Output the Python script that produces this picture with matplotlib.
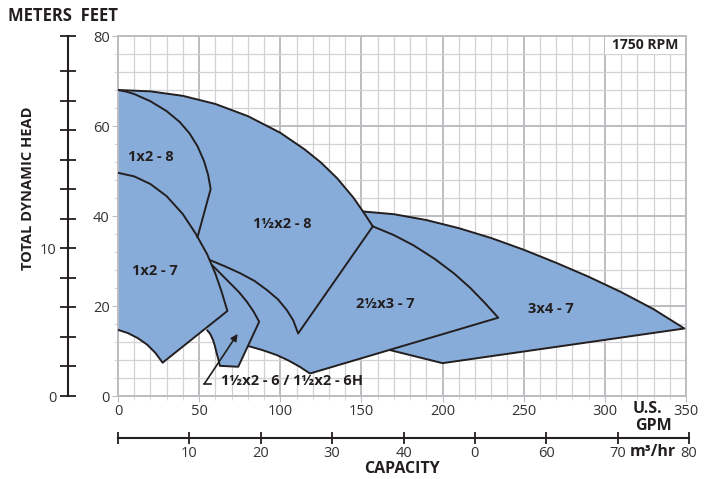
import numpy as np
import matplotlib.pyplot as plt
from matplotlib.patches import Rectangle

plt.rcParams['font.family'] = ['Open Sans', 'DejaVu Sans']

# pump coverage curves, (GPM, feet)
q_1h2_8_top = [0, 20, 40, 60, 80, 100, 115, 125, 135, 145, 151, 157]
h_1h2_8_top = [68, 67.7, 66.7, 64.9, 62.2, 58.5, 54.8, 51.9, 48.4, 44.1, 41.0, 37.7]

q_1x2_8 = [0, 5, 10, 20, 30, 38, 44, 49, 53, 55.5, 57.1, 49]
h_1x2_8 = [68, 67.65, 67.1, 65.5, 63.3, 60.9, 58.4, 55.5, 52.2, 49.2, 46.0, 35.3]

q_1x2_7_top = [0, 10, 20, 30, 40, 48, 55, 60, 64, 67.4]
h_1x2_7_top = [49.6, 48.8, 47.1, 44.4, 40.4, 36.0, 31.45, 27.2, 23.0, 18.9]
q_1x2_7_bot = [27.5, 23, 18, 12, 6, 0]
h_1x2_7_bot = [7.4, 9.6, 11.4, 12.9, 14.0, 14.7]

# lower boundary of 1 1/2x2-8
q_1h2_8_low = [56.7, 66, 75.2, 84, 91.6, 98.5, 104, 108, 111]
h_1h2_8_low = [30.2, 28.8, 27.3, 25.6, 23.6, 21.5, 19.1, 16.8, 13.9]

# 1 1/2x2-6 outline
q_1h2_6_top = [58.2, 63.5, 69, 74.5, 79.3, 83.5, 87]
h_1h2_6_top = [29.0, 27.1, 25.1, 23.1, 21, 18.8, 16.5]
q_1h2_6_bot = [74.1, 62.8, 61.8, 60.8, 59.7, 58.5, 56.8, 55]
h_1h2_6_bot = [6.5, 6.7, 8.2, 9.5, 11.1, 12.5, 13.8, 14.6]

q_2h3_7_top = [157, 170, 182, 195, 207, 217, 226, 234.3]
h_2h3_7_top = [37.7, 35.75, 33.5, 30.5, 27.25, 24.05, 20.7, 17.4]
q_2h3_7_bot = [118.3, 112, 105, 97.8, 89, 80.3]
h_2h3_7_bot = [5, 6.5, 7.9, 9.1, 10.2, 11.1]

q_3x4_7_top = [151, 170, 190, 210, 230, 250, 270, 290, 310, 330, 349]
h_3x4_7_top = [41.0, 40.4, 39.1, 37.3, 35.1, 32.5, 29.6, 26.5, 23.1, 19.3, 15.0]
q_3x4_7_bot = [200, 167.6]
h_3x4_7_bot = [7.3, 10.2]

gpm_ticks = [0, 50, 100, 150, 200, 250, 300, 350]
ft_ticks = [0, 20, 40, 60, 80]
m_ticks = [0, 2, 4, 6, 8, 10, 12, 14, 16, 18, 20, 22, 24.384]
m_labels = ['0', '', '', '', '', '10', '', '', '', '', '', '', '']
m3_ticks = [0, 10, 20, 30, 40, 50, 60, 70, 80]
m3_labels = ['', '10', '20', '30', '40', '0', '60', '70', '80']

labels = ['1x2 - 8', '1x2 - 7', '1½x2 - 8', '2½x3 - 7', '3x4 - 7']
label_q = [20.3, 22.8, 101, 165, 266.8]
label_h = [53.1, 27.8, 38.2, 20.4, 19.3]

fill = '#88acd9'
ink = '#231f20'
grid_c = '#d2d2d6'
grid_major = '#bcbcc1'

fig = plt.figure(figsize=(7.04, 4.79), dpi=100)
ax = fig.add_axes([118/704, 1-396/479, 568/704, 360/479])

def cat(*parts):
    q, h = [], []
    for pq, ph in parts:
        q += list(pq)
        h += list(ph)
    return q, h

# filled regions
polys = [
    cat((q_1h2_8_top, h_1h2_8_top), (q_1h2_8_low[::-1], h_1h2_8_low[::-1]), ([0], [30])),
    cat((q_1x2_8, h_1x2_8), (q_1x2_7_top[5::-1], h_1x2_7_top[5::-1])),
    cat((q_1x2_7_top, h_1x2_7_top), (q_1x2_7_bot, h_1x2_7_bot)),
    cat((q_1h2_6_top, h_1h2_6_top), (q_1h2_6_bot, h_1h2_6_bot)),
    cat((q_2h3_7_top, h_2h3_7_top), (q_2h3_7_bot, h_2h3_7_bot),
        (q_1h2_6_top[::-1], h_1h2_6_top[::-1]), (q_1h2_8_low, h_1h2_8_low)),
    cat((q_3x4_7_top, h_3x4_7_top), (q_3x4_7_bot, h_3x4_7_bot), ([140], [20])),
]
for q, h in polys:
    ax.fill(q, h, color=fill, lw=0, zorder=2)

# outlines
lw = 1.4
outlines = [
    (q_1h2_8_top, h_1h2_8_top),
    (q_1x2_8, h_1x2_8),
    cat((q_1x2_7_top, h_1x2_7_top), (q_1x2_7_bot, h_1x2_7_bot)),
    cat((q_1h2_8_low, h_1h2_8_low), ([157], [37.7])),
    cat((q_1h2_6_top, h_1h2_6_top), (q_1h2_6_bot, h_1h2_6_bot)),
    cat((q_2h3_7_top, h_2h3_7_top), (q_2h3_7_bot, h_2h3_7_bot)),
    cat((q_3x4_7_top, h_3x4_7_top), (q_3x4_7_bot, h_3x4_7_bot)),
]
for q, h in outlines:
    ax.plot(q, h, color=ink, lw=lw, zorder=3, solid_joinstyle='round')

for t, x, y in zip(labels, label_q, label_h):
    ax.text(x, y, t, ha='center', va='center', fontsize=10.5, fontweight='bold', color=ink, zorder=4)

ax.text(63.5, 3.3, '1½x2 - 6 / 1½x2 - 6H', ha='left', va='center', fontsize=10.5,
        fontweight='bold', color=ink, zorder=4)
ax.plot([53.2, 57], [2.7, 2.7], color=ink, lw=1.2, zorder=4)
ax.annotate('', xy=(73.7, 13.8), xytext=(53.2, 2.7),
            arrowprops=dict(arrowstyle='-|>', color=ink, lw=1.2, mutation_scale=10,
                            shrinkA=0, shrinkB=0), zorder=4)

ax.add_patch(Rectangle((300, 76), 50, 4, facecolor='white', edgecolor='none', zorder=1))
ax.text(325, 78, '1750 RPM', ha='center', va='center', fontsize=10, fontweight='bold', color=ink)

ax.set_xlim(0, 350)
ax.set_ylim(0, 80)
ax.set_xticks(gpm_ticks)
ax.set_xticks(np.arange(0, 351, 10), minor=True)
ax.set_yticks(ft_ticks)
ax.set_yticks(np.arange(0, 81, 4), minor=True)
ax.grid(which='minor', color=grid_c, lw=0.9)
ax.grid(which='major', color=grid_major, lw=1.4)
ax.set_axisbelow(True)
for s in ax.spines.values():
    s.set_color(grid_major)
    s.set_linewidth(1.4)
ax.tick_params(which='major', length=4, color=grid_major, labelsize=10.5, labelcolor='#333333', pad=2)
ax.tick_params(which='minor', length=3, color=grid_c)

# meters axis
axm = fig.add_axes([68/704, 1-396/479, 0.0001, 360/479])
axm.set_ylim(0, 80*0.3048)
axm.set_xticks([])
axm.set_yticks(m_ticks)
axm.set_yticklabels(m_labels)
for s in ['top', 'right', 'bottom']:
    axm.spines[s].set_visible(False)
axm.spines['left'].set_color(ink)
axm.spines['left'].set_linewidth(1.5)
axm.tick_params(axis='y', direction='inout', length=11, width=1.3, color=ink,
                labelsize=10.5, labelcolor='#333333', pad=3)
axm.patch.set_alpha(0)

# m3/hr axis
axc = fig.add_axes([118/704, 1-438/479, 571/704, 0.0001])
axc.set_xlim(0, 80)
axc.set_yticks([])
axc.set_xticks(m3_ticks)
axc.set_xticklabels(m3_labels)
for s in ['top', 'right', 'left']:
    axc.spines[s].set_visible(False)
axc.spines['bottom'].set_color(ink)
axc.spines['bottom'].set_linewidth(1.5)
axc.tick_params(axis='x', direction='inout', length=9, width=1.3, color=ink,
                labelsize=10.5, labelcolor='#333333', pad=1)
axc.patch.set_alpha(0)

fig.text(8/704, 1-16/479, 'METERS  FEET', ha='left', va='center', fontsize=12, fontweight='bold', color=ink)
fig.text(28/704, 1-188/479, 'TOTAL DYNAMIC HEAD', rotation=90, ha='center', va='center',
         fontsize=10.5, fontweight='bold', color=ink)
fig.text(402/704, 1-469/479, 'CAPACITY', ha='center', va='center', fontsize=11.5, fontweight='bold', color=ink)
fig.text(647/704, 1-409/479, 'U.S.', ha='center', va='center', fontsize=11.5, fontweight='bold', color=ink)
fig.text(653/704, 1-426/479, 'GPM', ha='center', va='center', fontsize=11.5, fontweight='bold', color=ink)
fig.text(653/704, 1-452/479, 'm³/hr', ha='center', va='center', fontsize=11.5, fontweight='bold', color=ink)

fig.savefig('out.png', dpi=100)
